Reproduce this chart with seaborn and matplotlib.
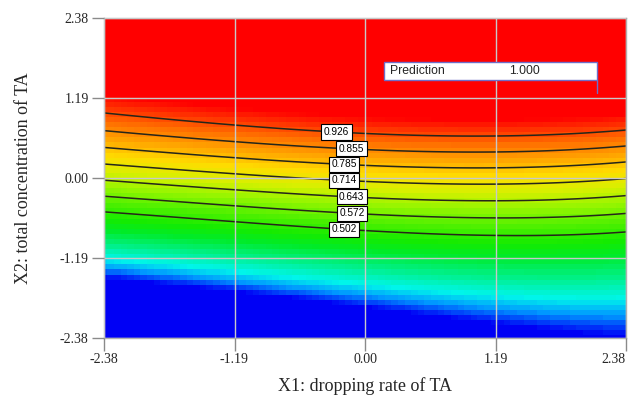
import numpy as np
import matplotlib
matplotlib.use("Agg")
import matplotlib.pyplot as plt
import seaborn as sns
from matplotlib.colors import LinearSegmentedColormap
from matplotlib.patches import Rectangle

sns.set_theme(style="white")
plt.rcParams['font.family'] = ['Liberation Serif', 'DejaVu Serif']

# axis ticks
ticks = [-2.38, -1.19, 0.0, 1.19, 2.38]
tick_labels = ["-2.38", "-1.19", "0.00", "1.19", "2.38"]

# contour levels shown on the plot
levels = [0.502, 0.572, 0.643, 0.714, 0.785, 0.855, 0.926]
label_x1 = [-0.19, -0.12, -0.12, -0.19, -0.19, -0.12, -0.26]
label_x2 = [-0.76, -0.51, -0.25, 0.01, 0.27, 0.48, 0.71]

# response-surface model coefficients (terms: 1, x1, x2, x1^2, x2^2, x1x2, x1^2x2, x1x2^2, x1^3, x2^3)
model_terms = ["1", "x1", "x2", "x1^2", "x2^2", "x1x2", "x1^2x2", "x1x2^2", "x1^3", "x2^3"]
model_coef = [0.72905, 0.02091, 0.29681, -0.00787, 0.00408, -0.00248, -0.00117, 0.00555, -0.00134, -0.00535]

# prediction flag
pred_label = "Prediction"
pred_value = "1.000"
pred_point = (2.116, 1.265)

def basis(a, b):
    return np.stack([np.ones_like(a), a, b, a*a, b*b, a*b, a*a*b, a*b*b, a**3, b**3], axis=-1)

coef = np.array(model_coef)
g1 = np.linspace(-2.38, 2.38, 80)
g2 = np.linspace(-2.38, 2.38, 64)
G1, G2 = np.meshgrid(g1, g2)
Z = basis(G1, G2) @ coef
f1 = np.linspace(-2.38, 2.38, 240)
F1, F2 = np.meshgrid(f1, f1)
ZF = basis(F1, F2) @ coef

anchors = [(0.21, (0, 0, 245)), (0.25, (0, 150, 255)), (0.29, (0, 245, 235)), (0.35, (0, 240, 140)),
           (0.42, (0, 235, 40)), (0.47, (20, 235, 0)), (0.54, (80, 240, 0)), (0.61, (150, 245, 0)),
           (0.68, (215, 240, 0)), (0.75, (255, 220, 0)), (0.82, (255, 165, 0)), (0.89, (255, 110, 0)),
           (0.96, (255, 40, 0)), (1.0, (255, 0, 0))]
vmin, vmax = anchors[0][0], anchors[-1][0]
cmap = LinearSegmentedColormap.from_list(
    "de", [((v - vmin) / (vmax - vmin), tuple(c / 255 for c in col)) for v, col in anchors])

fig = plt.figure(figsize=(6.37, 4.03), dpi=100)
ax = fig.add_axes([104/637, 1-338/403, 522/637, 320/403])
ax.pcolormesh(G1, G2, Z, cmap=cmap, vmin=vmin, vmax=vmax, shading='nearest', zorder=1)
cs = ax.contour(F1, F2, ZF, levels=levels, colors=[(0.15, 0.15, 0.1)], linewidths=1.1, zorder=2)
ax.set_xlim(-2.38, 2.38); ax.set_ylim(-2.38, 2.38)
ax.clabel(cs, manual=list(zip(label_x1, label_x2)), fmt="%.3f", fontsize=7.3, inline=True, inline_spacing=3)
for t in cs.labelTexts:
    t.set_family(['Liberation Sans', 'DejaVu Sans'])
    t.set_color('black')
    t.set_rotation(0)
    t.set_bbox(dict(boxstyle='square,pad=0.25', facecolor='white', edgecolor='black', linewidth=0.8))
    t.set_zorder(5)

ax.set_xticks(ticks); ax.set_xticklabels(tick_labels, fontsize=10)
ax.set_yticks(ticks); ax.set_yticklabels(tick_labels, fontsize=10)
xt = ax.get_xticklabels()
xt[-1].set_horizontalalignment('right')
xt[-1].set_x(2.38)
ax.tick_params(direction='out', length=9, width=1, color='#8a8a8a', left=True, bottom=True, pad=2)
ax.grid(True, color='#c8c8c8', linewidth=1)
ax.set_axisbelow(False)
for s in ax.spines.values():
    s.set_color('#b0b0b0'); s.set_linewidth(1)
ax.set_xlabel("X1: dropping rate of TA", fontsize=13, labelpad=8)
ax.set_ylabel("X2: total concentration of TA", fontsize=13, labelpad=20)

ax.add_patch(Rectangle((0.177, 1.458), pred_point[0] - 0.177, 0.268, facecolor='white',
                       edgecolor='#6e6ec8', linewidth=1, zorder=6))
ax.text(0.23, 1.592, pred_label, fontsize=8.8, va='center', family=['Liberation Sans'], zorder=7)
ax.text(1.315, 1.592, pred_value, fontsize=8.8, va='center', family=['Liberation Sans'], zorder=7)
ax.plot([pred_point[0], pred_point[0]], [1.458, pred_point[1]], color='#6e6ec8', lw=1, zorder=6)

fig.savefig("out.png", dpi=100)
